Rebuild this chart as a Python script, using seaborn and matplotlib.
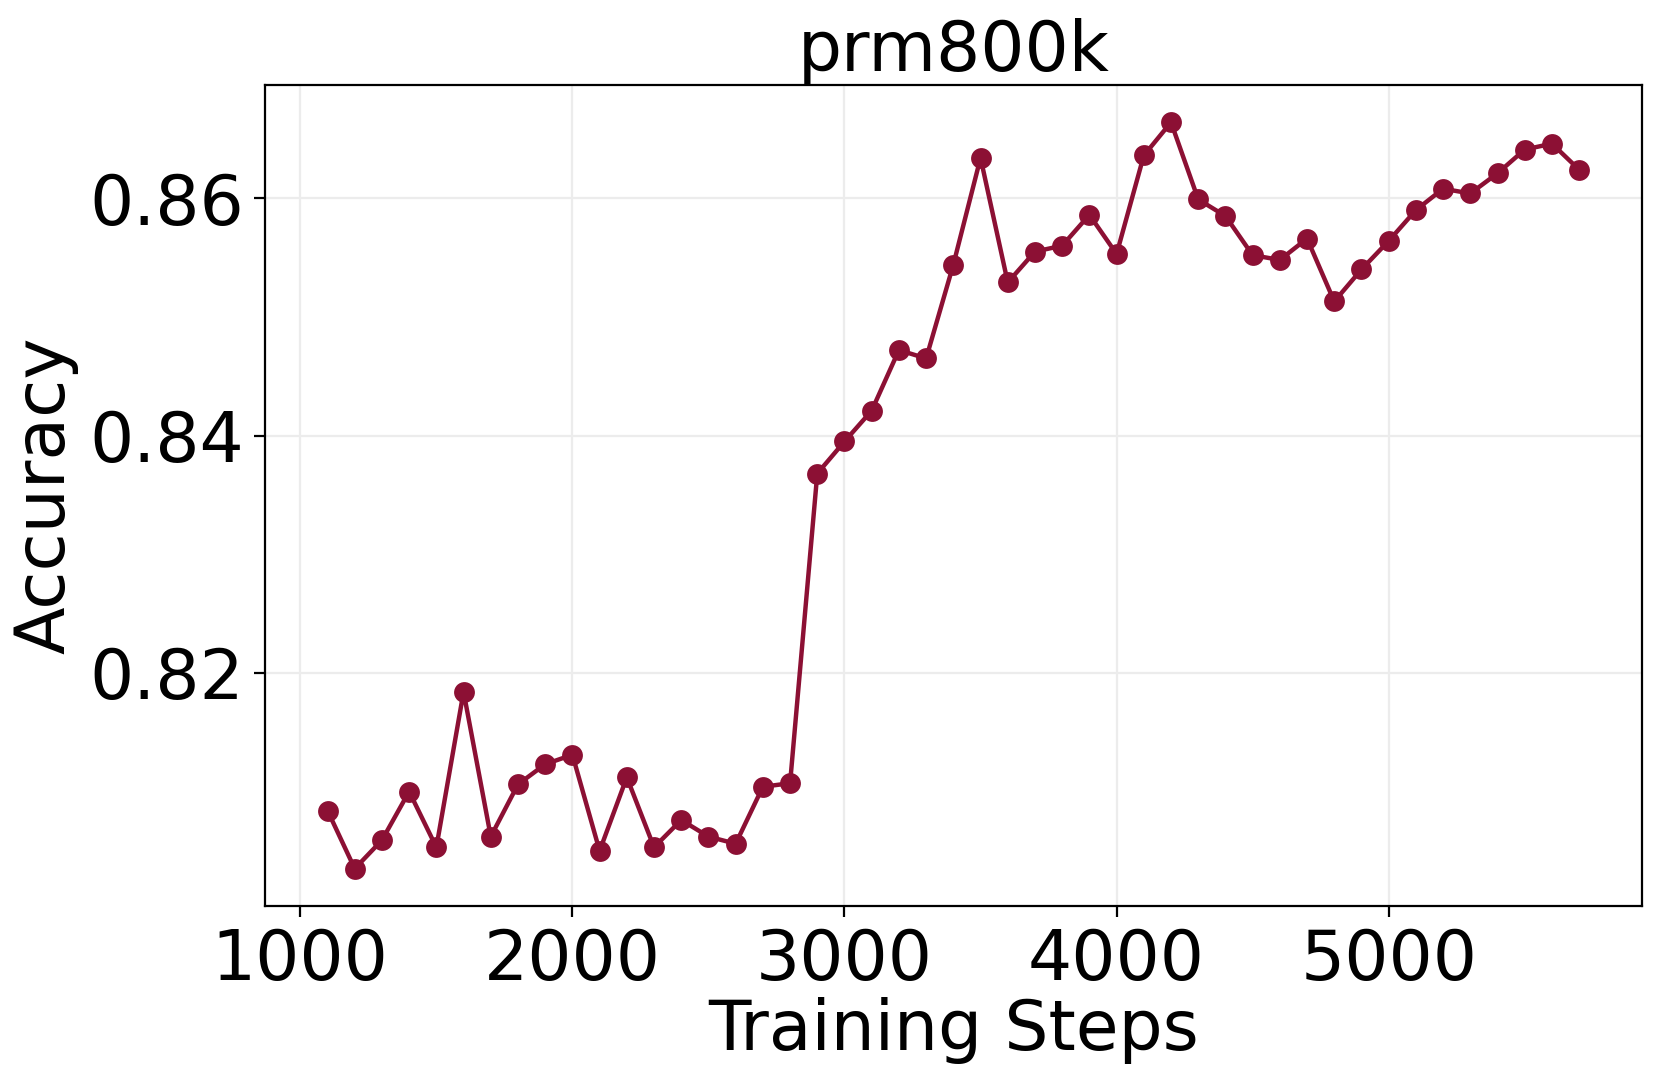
import pandas as pd
import matplotlib
matplotlib.use("Agg")
import matplotlib.pyplot as plt
import seaborn as sns

steps = list(range(1100, 5800, 100))
accuracy = [
    0.8084, 0.8035, 0.8059, 0.8100, 0.8053, 0.8184, 0.8062, 0.8106, 0.8123, 0.8131,
    0.8050, 0.8112, 0.8053, 0.8076, 0.8062, 0.8056, 0.8104, 0.8107, 0.8368, 0.8395,
    0.8421, 0.8472, 0.8465, 0.8544, 0.8634, 0.8529, 0.8555, 0.8560, 0.8586, 0.8553,
    0.8636, 0.8664, 0.8599, 0.8585, 0.8552, 0.8548, 0.8566, 0.8513, 0.8540, 0.8564,
    0.8590, 0.8608, 0.8604, 0.8621, 0.8641, 0.8646, 0.8624,
]
title = "prm800k"
line_color = "#8c1034"

df = pd.DataFrame({"step": steps, "acc": accuracy})

sns.set_style("white")
plt.rcParams["font.family"] = ["DejaVu Sans"]
plt.rcParams["text.color"] = "black"
plt.rcParams["axes.labelcolor"] = "black"
plt.rcParams["xtick.color"] = "black"
plt.rcParams["ytick.color"] = "black"

fig = plt.figure(figsize=(8.3, 5.425), dpi=200)
ax = fig.add_axes([0.1596, 0.165, 0.8294, 0.7567])

sns.lineplot(data=df, x="step", y="acc", marker="o", color=line_color,
             linewidth=1.6, markersize=7.5, markeredgewidth=0, ax=ax)

ax.grid(True, color="#ececec", linewidth=0.8)
ax.set_axisbelow(True)
ax.set_xticks([1000, 2000, 3000, 4000, 5000])
ax.set_yticks([0.82, 0.84, 0.86])
ax.set_yticklabels(["0.82", "0.84", "0.86"])
ax.tick_params(axis="both", labelsize=25, length=4, width=0.8, direction="out",
               left=True, bottom=True, colors="black")
for s in ax.spines.values():
    s.set_color("black")
    s.set_linewidth(0.8)

ax.set_title(title, fontsize=25, pad=5, color="black")
ax.set_xlabel("Training Steps", fontsize=25, labelpad=1)
ax.set_ylabel("Accuracy", fontsize=25)

fig.savefig("out.png", dpi=200)
